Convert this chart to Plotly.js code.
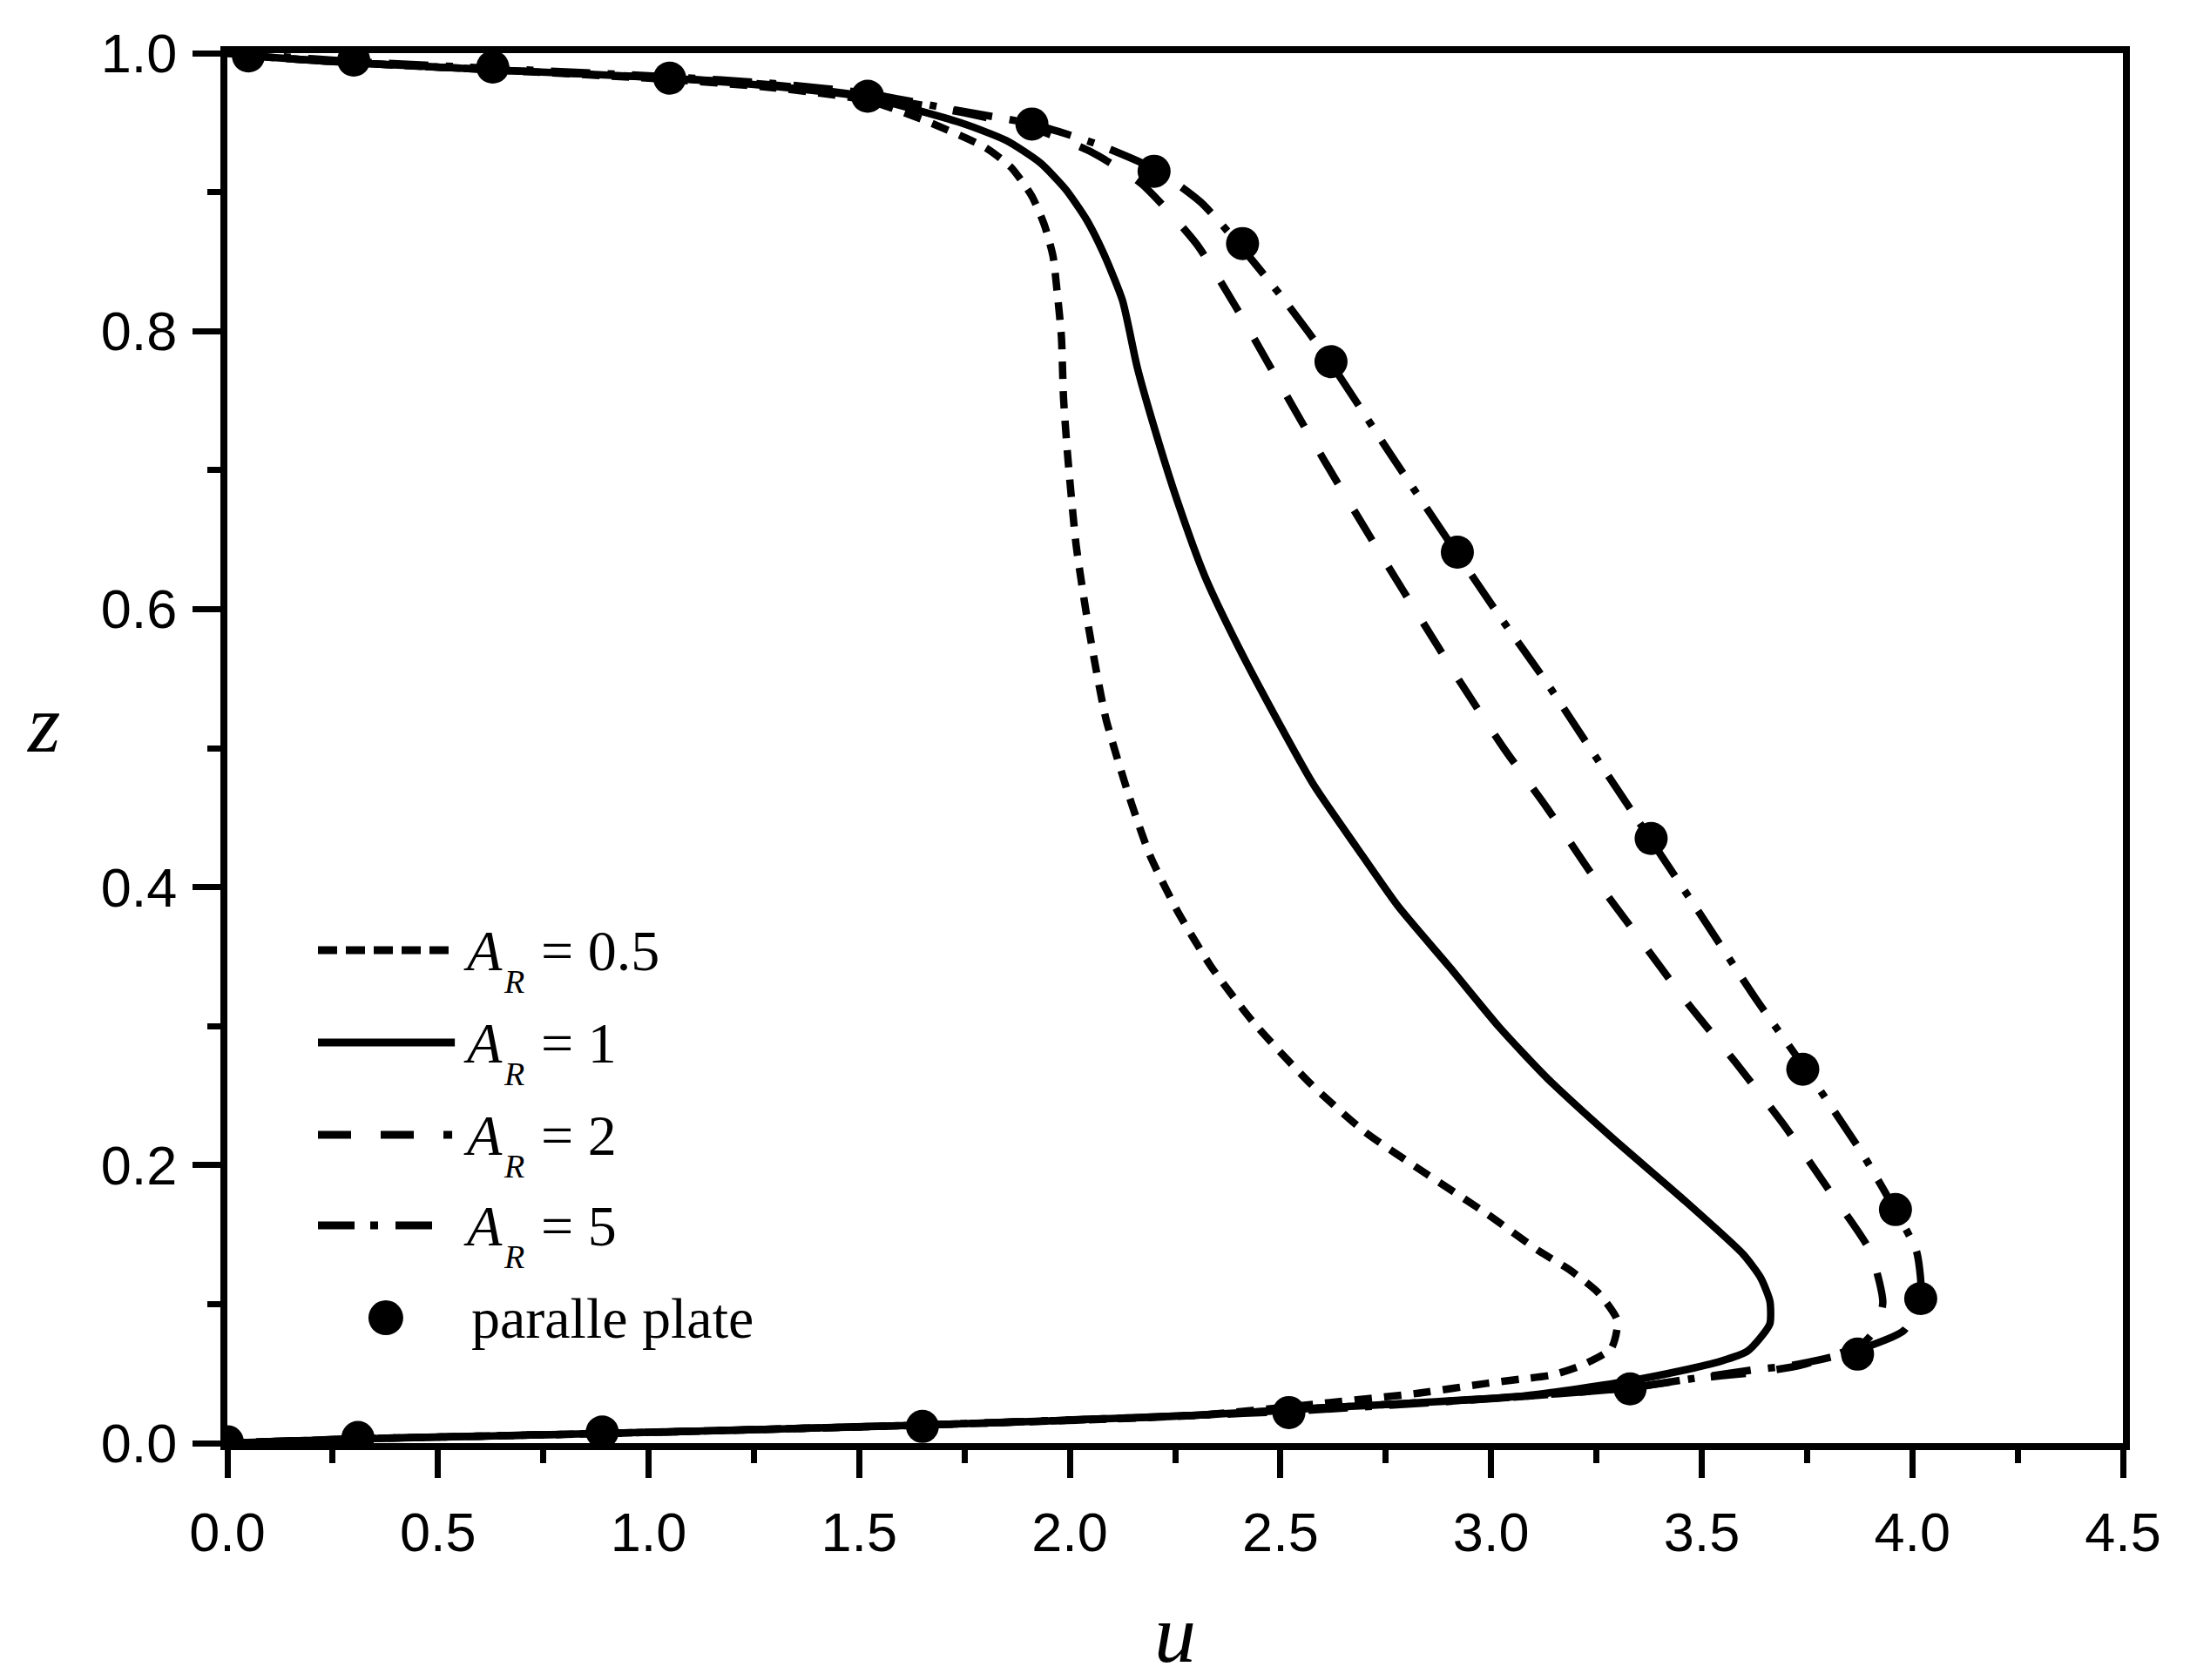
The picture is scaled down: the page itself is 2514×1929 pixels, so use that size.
<!DOCTYPE html>
<html>
<head>
<meta charset="utf-8">
<script src="https://cdn.plot.ly/plotly-3.0.1.min.js"></script>
<style>
  html, body { margin: 0; padding: 0; background: #ffffff; }
  #chart { width: 2514px; height: 1929px; }
</style>
</head>
<body>
<div id="chart"></div>
<script>
// velocity profiles u(z) for several aspect ratios
const uAR05 = [0, 0.1, 0.3, 0.63, 1.05, 1.3, 1.52, 1.66, 1.80, 1.86, 1.91, 1.94, 1.96, 1.97, 1.98, 1.985,
  1.995, 2.015, 2.045, 2.085, 2.14, 2.19, 2.255, 2.335, 2.435, 2.57, 2.70, 2.85, 2.99, 3.115, 3.185,
  3.255, 3.30, 3.285, 3.215, 3.145, 3.07, 2.99, 2.83, 2.58, 2.3, 1.65, 0.9, 0.3, 0];
const zAR05 = [1.0, 0.997, 0.993, 0.988, 0.981, 0.975, 0.966, 0.951, 0.932, 0.918, 0.897, 0.876, 0.854, 0.828, 0.796, 0.752,
  0.710, 0.646, 0.586, 0.522, 0.466, 0.423, 0.383, 0.343, 0.303, 0.259, 0.224, 0.193, 0.165, 0.138, 0.125,
  0.108, 0.088, 0.068, 0.056, 0.049, 0.046, 0.043, 0.036, 0.028, 0.020, 0.013, 0.007, 0.003, 0];

const uAR1 = [0, 0.1, 0.3, 0.63, 1.05, 1.3, 1.52, 1.74, 1.85, 1.93, 1.99, 2.04, 2.08, 2.125, 2.16,
  2.205, 2.255, 2.32, 2.40, 2.50, 2.58, 2.68, 2.78, 2.90, 3.02, 3.135, 3.29, 3.45, 3.598, 3.64, 3.662, 3.662,
  3.64, 3.608, 3.546, 3.45, 3.333, 3.08, 2.58, 2.3, 1.65, 0.9, 0.3, 0];
const zAR1 = [1.0, 0.997, 0.993, 0.988, 0.982, 0.976, 0.968, 0.950, 0.937, 0.921, 0.902, 0.880, 0.856, 0.822, 0.774,
  0.726, 0.678, 0.624, 0.573, 0.516, 0.473, 0.429, 0.386, 0.343, 0.299, 0.262, 0.219, 0.177, 0.136, 0.119, 0.102, 0.086,
  0.076, 0.066, 0.059, 0.052, 0.045, 0.034, 0.025, 0.020, 0.013, 0.007, 0.003, 0];

const uAR2 = [0, 0.1, 0.3, 0.63, 1.05, 1.3, 1.52, 1.75, 1.92, 2.05, 2.17, 2.30, 2.395, 2.48, 2.565, 2.655,
  2.745, 2.835, 2.93, 3.03, 3.135, 3.24, 3.345, 3.46, 3.58, 3.695, 3.80, 3.90, 3.93, 3.91, 3.88,
  3.735, 3.63, 3.47, 3.335, 3.0, 2.58, 2.3, 1.65, 0.9, 0.3, 0];
const zAR2 = [1.0, 0.997, 0.993, 0.988, 0.982, 0.977, 0.969, 0.957, 0.945, 0.929, 0.906, 0.863, 0.817, 0.772, 0.727, 0.681,
  0.636, 0.592, 0.546, 0.500, 0.456, 0.409, 0.366, 0.319, 0.274, 0.229, 0.183, 0.138, 0.101, 0.081, 0.071,
  0.056, 0.051, 0.046, 0.040, 0.032, 0.025, 0.020, 0.013, 0.007, 0.003, 0];

const uAR5 = [0, 0.1, 0.3, 0.63, 1.05, 1.3, 1.52, 1.73, 1.91, 2.06, 2.205, 2.31, 2.40, 2.51, 2.615, 2.76,
  2.915, 3.02, 3.13, 3.25, 3.375, 3.50, 3.63, 3.74, 3.88, 3.955, 4.01, 4.02, 3.98, 3.86, 3.715,
  3.63, 3.47, 3.335, 3.0, 2.53, 2.3, 1.65, 0.9, 0.3, 0];
const zAR5 = [1.0, 0.998, 0.994, 0.989, 0.983, 0.978, 0.971, 0.959, 0.949, 0.935, 0.916, 0.893, 0.863, 0.822, 0.779, 0.712,
  0.642, 0.595, 0.548, 0.493, 0.436, 0.379, 0.319, 0.272, 0.209, 0.170, 0.138, 0.106, 0.081, 0.066, 0.056,
  0.053, 0.046, 0.040, 0.032, 0.023, 0.020, 0.013, 0.007, 0.003, 0];

// parallel plate solution (markers)
const uPlate = [0.05, 0.30, 0.63, 1.05, 1.52, 1.91, 2.20, 2.41, 2.62, 2.92, 3.38, 3.74, 3.96, 4.02, 3.87, 3.33, 2.52, 1.65, 0.89, 0.31, 0.0];
const zPlate = [0.998, 0.995, 0.990, 0.982, 0.969, 0.949, 0.915, 0.863, 0.778, 0.641, 0.435, 0.269, 0.168, 0.104, 0.064, 0.039, 0.022, 0.012, 0.008, 0.004, 0.001];

const legendValues = ["= 0.5", "= 1", "= 2", "= 5"];
const plateLabel = "paralle plate";

const serif = "Liberation Serif, Times New Roman, serif";
const sans = "Liberation Sans, Arial, sans-serif";

const dashes = ["20px,14px", "solid", "40px,36px", "45px,20px,8px,20px"];
const legendDashes = ["22px,10px", "solid", "38px,34px", "42px,18px,9px,20px"];

function curve(u, z, dash) {
  return {
    type: "scatter",
    mode: "lines",
    x: u,
    y: z,
    line: { color: "black", width: 8.5, dash: dash, shape: "spline", smoothing: 0.6 },
    showlegend: false,
    hoverinfo: "skip",
  };
}

const traces = [
  curve(uAR05, zAR05, dashes[0]),
  curve(uAR1, zAR1, dashes[1]),
  curve(uAR2, zAR2, dashes[2]),
  curve(uAR5, zAR5, dashes[3]),
  {
    type: "scatter",
    mode: "markers",
    x: uPlate,
    y: zPlate,
    marker: { color: "black", size: 38, line: { width: 0 } },
    showlegend: false,
    hoverinfo: "skip",
  },
];

// hand-made legend (Plotly caps legend markers at a small size)
const rowY = [0.3546, 0.2882, 0.2218, 0.1566];
const lineEnd = [0.1167, 0.1200, 0.1186, 0.1085];
const shapes = [];
const annotations = [];

function note(x, y, text, size, yshift) {
  annotations.push({
    xref: "paper", yref: "paper", x: x, y: y,
    xanchor: "left", yanchor: "middle", yshift: yshift || 0, showarrow: false,
    text: text,
    font: { family: serif, size: size, color: "black" },
  });
}

rowY.forEach((y, i) => {
  shapes.push({
    type: "line", xref: "paper", yref: "paper",
    x0: 0.0478, x1: lineEnd[i], y0: y, y1: y,
    line: { color: "black", width: 9, dash: legendDashes[i] },
  });
  note(0.1236, y, "<i>A</i>", 66, 0);
  note(0.1448, y, "<i>R</i>", 38, -36);
  note(0.1645, y, legendValues[i], 66, 0);
});
shapes.push({
  type: "circle", xref: "paper", yref: "paper",
  xsizemode: "pixel", ysizemode: "pixel",
  xanchor: 0.0836, yanchor: 0.0902,
  x0: -20, x1: 20, y0: -20, y1: 20,
  fillcolor: "black", line: { width: 0 },
});
note(0.1278, 0.0902, plateLabel, 66, 0);

// upright y-axis label
annotations.push({
  xref: "paper", yref: "paper", x: -0.097, y: 0.518,
  xanchor: "center", yanchor: "middle", showarrow: false,
  text: "<i>z</i>",
  font: { family: serif, size: 96, color: "black" },
});

const axisCommon = {
  showgrid: false,
  zeroline: false,
  showline: true,
  linecolor: "black",
  linewidth: 8,
  mirror: true,
  ticks: "outside",
  ticklen: 32,
  tickwidth: 7,
  tickcolor: "black",
  tickformat: ".1f",
  tickfont: { family: sans, size: 63, color: "black" },
  fixedrange: true,
};

const layout = {
  width: 2514,
  height: 1929,
  margin: { l: 261, r: 77, t: 61, b: 272 },
  paper_bgcolor: "white",
  plot_bgcolor: "white",
  showlegend: false,
  xaxis: Object.assign({}, axisCommon, {
    range: [0, 4.5],
    tick0: 0,
    dtick: 0.5,
    ticklabelstandoff: 8,
    minor: { dtick: 0.25, ticks: "outside", ticklen: 15, tickwidth: 7, tickcolor: "black" },
    title: { text: "<i>u</i>", font: { family: serif, size: 96, color: "black" }, standoff: 80 },
  }),
  yaxis: Object.assign({}, axisCommon, {
    range: [0, 1],
    tick0: 0,
    dtick: 0.2,
    ticklabelstandoff: 5,
    minor: { dtick: 0.1, ticks: "outside", ticklen: 15, tickwidth: 7, tickcolor: "black" },
  }),
  shapes: shapes,
  annotations: annotations,
};

Plotly.newPlot("chart", traces, layout, { displayModeBar: false, staticPlot: true });
</script>
</body>
</html>
